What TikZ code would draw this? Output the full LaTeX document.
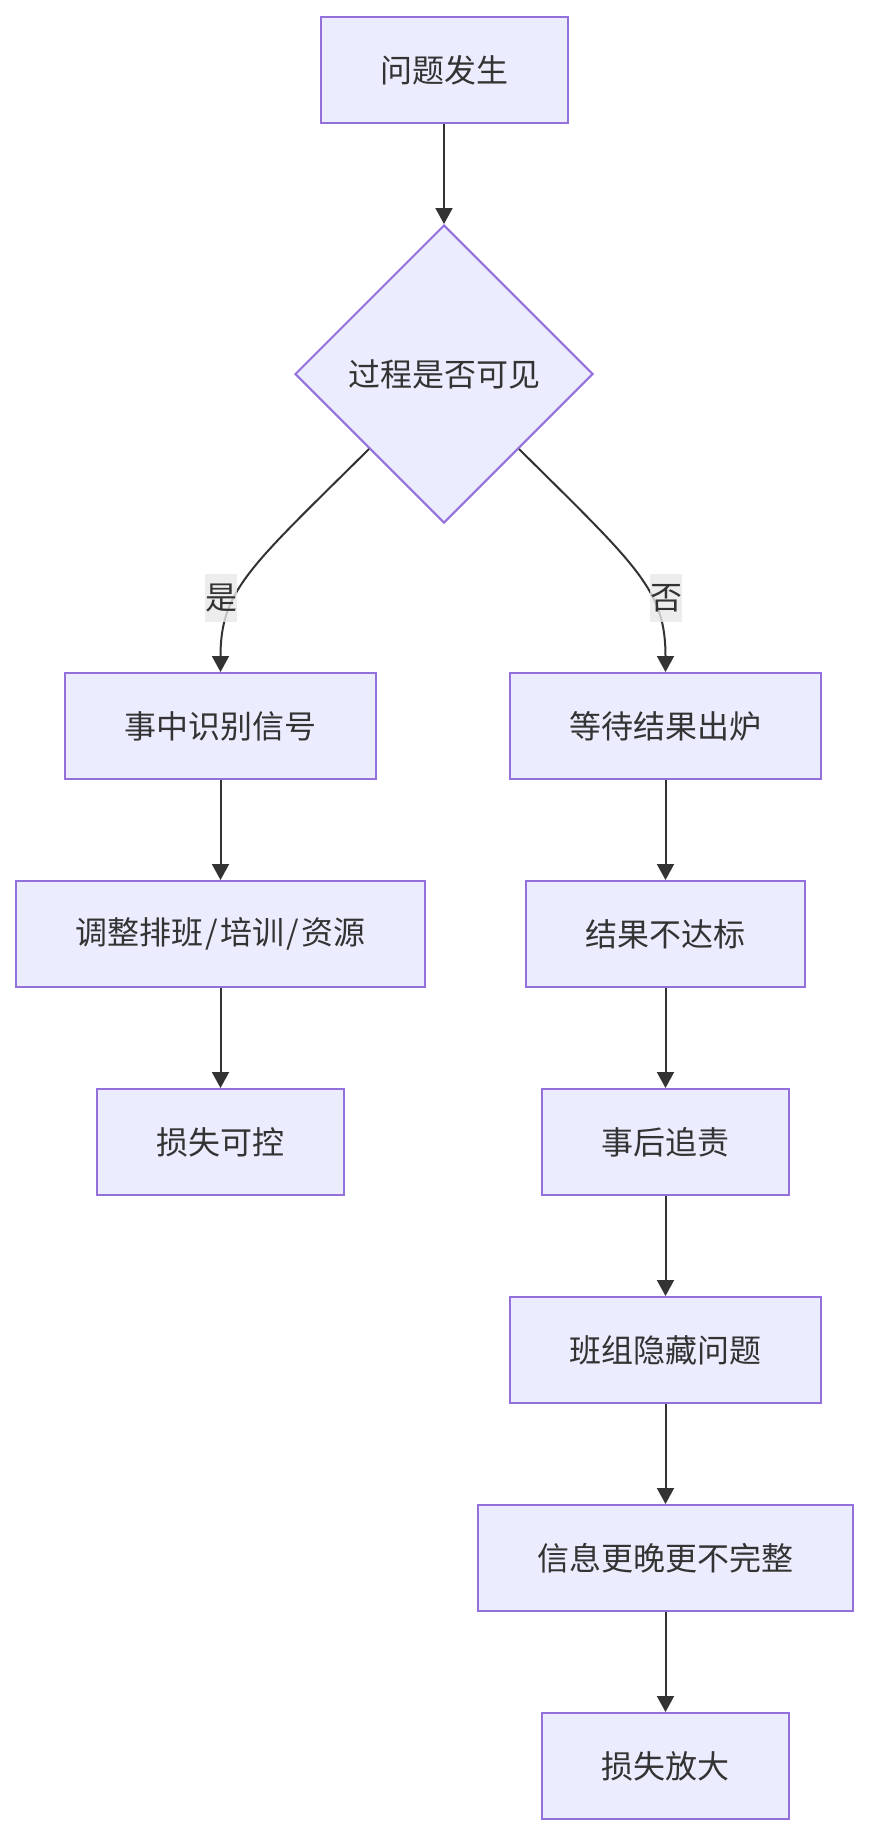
\documentclass[tikz,border=0pt]{standalone}
\usepackage{fontspec}
\setmainfont{Noto Sans CJK SC}
\usepackage{xcolor}
\usetikzlibrary{arrows.meta}
\usetikzlibrary{shapes.geometric}
\definecolor{nodefill}{HTML}{ECECFF}
\definecolor{nodeline}{HTML}{9370DB}
\definecolor{edgeline}{HTML}{333333}
\definecolor{lblfill}{HTML}{E8E8E8}

\begin{document}
\begin{tikzpicture}[
  x=1pt, y=-1pt,
  every node/.style={font=\fontsize{32}{38}\selectfont,text=edgeline},
  proc/.style={rectangle,draw=nodeline,fill=nodefill,line width=2pt,minimum height=106pt,inner xsep=59.5pt},
  decide/.style={diamond,draw=nodeline,fill=nodefill,line width=2pt,minimum width=298pt,minimum height=298pt,inner sep=0pt},
  lbl/.style={fill=lblfill,fill opacity=0.8,text opacity=1,inner sep=0pt,minimum width=32pt,minimum height=48pt},
  edge/.style={draw=edgeline,line width=2pt,-{Triangle[length=16pt,width=17pt]}}
]
  \useasboundingbox (0,0) rectangle (869,1836);

  \node[proc]   (start) at (444,70)     {问题发生};
  \node[decide] (dec)   at (444,374)    {过程是否可见};

  \node[proc] (sig)  at (220.5,726)  {事中识别信号};
  \node[proc,minimum width=408pt] (adj)  at (220.5,934)  {调整排班\kern2pt/\kern2pt培训\kern2pt/\kern2pt资源};
  \node[proc] (ctl)  at (220.5,1142) {损失可控};

  \node[proc] (wait)  at (665.5,726)  {等待结果出炉};
  \node[proc] (fail)  at (665.5,934)  {结果不达标};
  \node[proc] (blame) at (665.5,1142) {事后追责};
  \node[proc] (hide)  at (665.5,1350) {班组隐藏问题};
  \node[proc] (info)  at (665.5,1558) {信息更晚更不完整};
  \node[proc] (loss)  at (665.5,1766) {损失放大};

  \draw[edge] (start) -- (dec);
  \draw[edge] (dec.south west) .. controls +(-119,118) and +(0,-82) .. (sig.north);
  \draw[edge] (dec.south east) .. controls +(119,118) and +(0,-82) .. (wait.north);
  \draw[edge] (sig) -- (adj);
  \draw[edge] (adj) -- (ctl);
  \draw[edge] (wait) -- (fail);
  \draw[edge] (fail) -- (blame);
  \draw[edge] (blame) -- (hide);
  \draw[edge] (hide) -- (info);
  \draw[edge] (info) -- (loss);

  \node[lbl] (yes) at (221,598) {是};
  \node[lbl] (no)  at (666,598) {否};
\end{tikzpicture}
\end{document}
